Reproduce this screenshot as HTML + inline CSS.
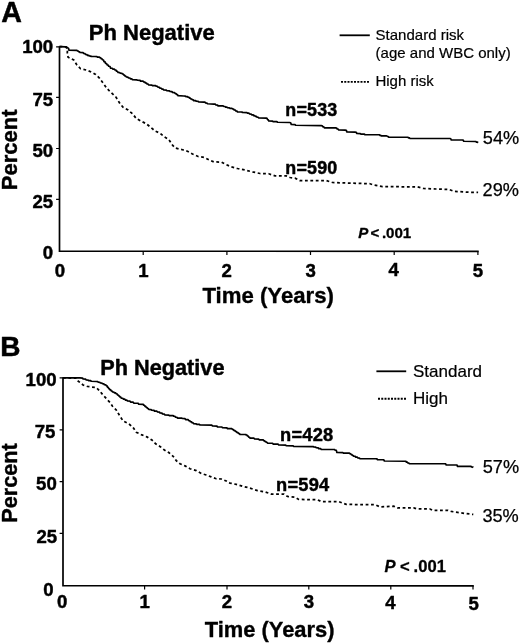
<!DOCTYPE html>
<html><head><meta charset="utf-8"><title>Figure</title>
<style>
html,body{margin:0;padding:0;background:#fff;}
svg{display:block}
text{font-family:"Liberation Sans",Arial,Helvetica,sans-serif;fill:#000}
</style></head><body>
<svg width="520" height="644" viewBox="0 0 520 644">
<rect width="520" height="644" fill="#fff"/>
<path d="M59.5,46.2 V251.1 L478.7,251.45" fill="none" stroke="#000" stroke-width="1.7" stroke-linejoin="miter"/>
<path d="M143.2,251.30 v3.6 M226.9,251.30 v3.6 M310.5,251.30 v3.6 M394.2,251.30 v3.6 M477.9,251.30 v3.6 M59.5,46.9 h-3.4 M59.5,97.3 h-3.4 M59.5,148.5 h-3.4 M59.5,199.4 h-3.4 " fill="none" stroke="#000" stroke-width="1.2"/>
<path d="M63.0,377.3 V585.6 L473.8,585.95" fill="none" stroke="#000" stroke-width="1.7" stroke-linejoin="miter"/>
<path d="M144.6,585.80 v3.6 M227,585.80 v3.6 M308.8,585.80 v3.6 M390.8,585.80 v3.6 M473,585.80 v3.6 M63.0,377.9 h-3.4 M63.0,429.8 h-3.4 M63.0,481.6 h-3.4 M63.0,533.3 h-3.4 " fill="none" stroke="#000" stroke-width="1.2"/>
<path d="M59.50,46.60 L65.60,46.80 L66.35,46.90 L66.85,47.45 L67.60,47.55 L68.10,48.10 L68.58,48.41 L68.90,50.20 L76.90,50.32 L77.50,51.00 L78.25,51.11 L78.75,51.75 L79.50,51.86 L80.00,52.50 L83.15,52.65 L83.75,53.50 L85.03,53.64 L85.62,54.45 L86.90,54.59 L87.50,55.40 L88.78,55.48 L89.38,55.95 L90.65,56.03 L91.25,56.50 L95.00,56.50 L96.90,56.59 L97.50,57.12 L99.40,57.22 L100.00,57.75 L100.75,57.90 L101.25,58.75 L102.00,58.90 L102.50,59.75 L103.45,60.03 L104.05,61.62 L105.00,61.91 L105.60,63.50 L106.58,63.71 L107.17,64.88 L108.15,65.08 L108.75,66.25 L110.00,66.53 L110.60,68.10 L112.20,68.24 L112.80,69.05 L114.40,69.19 L115.00,70.00 L115.95,70.19 L116.55,71.25 L117.50,71.44 L118.10,72.50 L119.70,72.61 L120.30,73.25 L121.90,73.36 L122.50,74.00 L123.25,74.14 L123.75,74.97 L124.50,75.11 L125.00,75.93 L125.75,76.08 L126.25,76.90 L127.73,77.04 L128.33,77.85 L129.82,77.99 L130.42,78.80 L131.90,78.94 L132.50,79.75 L136.90,79.83 L137.50,80.25 L140.03,80.37 L140.62,81.08 L143.15,81.20 L143.75,81.90 L144.82,82.06 L145.42,82.93 L146.48,83.09 L147.08,83.97 L148.15,84.12 L148.75,85.00 L151.90,85.09 L152.50,85.62 L155.65,85.72 L156.25,86.25 L157.53,86.39 L158.12,87.19 L159.40,87.33 L160.00,88.12 L161.28,88.27 L161.88,89.06 L163.15,89.20 L163.75,90.00 L166.28,90.11 L166.88,90.75 L169.40,90.86 L170.00,91.50 L171.90,91.64 L172.50,92.40 L174.40,92.54 L175.00,93.30 L175.95,93.48 L176.55,94.50 L177.50,94.68 L178.10,95.70 L183.75,96.00 L185.33,96.09 L185.93,96.62 L187.50,96.72 L188.10,97.25 L188.95,97.38 L189.51,98.09 L190.36,98.21 L190.93,98.92 L191.77,99.05 L192.34,99.76 L193.19,99.89 L193.75,100.60 L195.65,100.70 L196.25,101.25 L198.15,101.35 L198.75,101.90 L203.75,102.10 L205.03,102.22 L205.62,102.92 L206.90,103.05 L207.50,103.75 L213.75,104.10 L215.33,104.23 L215.93,105.00 L217.50,105.14 L218.10,105.90 L223.15,105.98 L223.75,106.40 L225.03,106.50 L225.62,107.08 L226.90,107.18 L227.50,107.75 L229.40,107.84 L230.00,108.33 L231.90,108.41 L232.50,108.90 L233.57,109.05 L234.17,109.90 L235.23,110.05 L235.83,110.90 L236.90,111.05 L237.50,111.90 L241.90,111.99 L242.50,112.50 L246.90,112.59 L247.50,113.10 L248.98,113.22 L249.58,113.93 L251.07,114.06 L251.67,114.77 L253.15,114.89 L253.75,115.60 L254.82,115.71 L255.42,116.37 L256.48,116.48 L257.08,117.13 L258.15,117.25 L258.75,117.90 L266.25,118.10 L267.00,118.32 L267.50,119.55 L268.25,119.77 L268.75,121.00 L272.52,121.09 L273.12,121.62 L276.90,121.72 L277.50,122.25 L289.40,122.50 L290.65,122.78 L291.25,124.40 L295.00,124.53 L295.60,125.25 L321.25,125.60 L322.22,125.77 L322.82,126.75 L323.80,126.92 L324.40,127.90 L335.60,127.90 L336.57,128.06 L337.18,128.95 L338.15,129.11 L338.75,130.00 L345.00,130.20 L346.30,130.45 L346.90,131.90 L355.00,132.10 L356.30,132.31 L356.90,133.50 L360.35,133.59 L360.95,134.12 L364.40,134.22 L365.00,134.75 L378.75,134.75 L379.50,134.84 L380.00,135.32 L380.75,135.41 L381.25,135.90 L386.25,135.90 L387.00,135.99 L387.50,136.50 L388.25,136.59 L388.75,137.10 L407.20,137.25 L408.04,137.34 L408.60,137.88 L409.44,137.97 L410.00,138.50 L450.00,138.50 L450.75,138.72 L451.25,140.00 L461.90,140.00 L463.15,140.19 L463.75,141.25 L475.00,141.50 L475.95,141.59 L476.55,142.12 L477.50,142.22 L478.10,142.75" fill="none" stroke="#000" stroke-width="1.72" stroke-linejoin="round"/>
<path d="M59.50,46.60 L65.60,46.80 L67.50,48.75 L67.25,53.75 L68.10,57.25 L73.75,60.00 L76.90,65.00 L80.60,68.75 L86.25,70.00 L91.90,72.25 L95.60,74.40 L99.40,78.10 L103.10,83.10 L106.25,87.50 L109.40,91.00 L113.10,94.40 L116.25,97.50 L120.00,103.75 L123.10,107.25 L128.10,110.00 L132.50,113.75 L136.25,118.50 L141.25,121.25 L146.25,123.75 L150.60,127.25 L155.00,131.00 L160.00,133.10 L164.40,136.90 L168.75,139.40 L172.00,144.50 L175.00,147.90 L182.50,149.75 L187.50,151.25 L192.50,154.00 L198.10,156.50 L204.40,157.50 L209.40,160.00 L213.75,161.90 L221.25,162.10 L225.00,164.00 L231.25,166.90 L237.50,168.50 L245.00,170.00 L252.50,171.90 L260.00,173.50 L268.75,173.75 L275.00,175.90 L286.25,175.90 L290.00,177.50 L295.00,178.10 L300.00,180.60 L326.25,180.60 L332.50,182.50 L350.00,183.10 L370.00,183.75 L373.75,185.00 L382.50,186.60 L417.50,186.90 L423.75,188.50 L436.25,189.00 L448.75,189.40 L453.75,191.25 L470.00,192.30 L478.10,192.30" fill="none" stroke="#000" stroke-width="1.75" stroke-dasharray="2.8 2.6"/>
<path d="M63.00,377.90 L80.00,377.90 L82.53,378.06 L83.12,378.95 L85.65,379.11 L86.25,380.00 L88.15,380.09 L88.75,380.62 L90.65,380.72 L91.25,381.25 L96.25,381.50 L97.73,381.61 L98.33,382.25 L99.82,382.36 L100.42,383.00 L101.90,383.11 L102.50,383.75 L103.78,383.89 L104.38,384.68 L105.65,384.81 L106.25,385.60 L107.00,385.84 L107.50,387.18 L108.25,387.41 L108.75,388.75 L109.50,388.91 L110.00,389.80 L110.75,389.96 L111.25,390.85 L112.00,391.01 L112.50,391.90 L113.78,392.04 L114.38,392.82 L115.65,392.96 L116.25,393.75 L117.00,393.91 L117.50,394.84 L118.25,395.00 L118.75,395.93 L119.50,396.09 L120.00,397.01 L120.75,397.18 L121.25,398.10 L122.73,398.25 L123.33,399.07 L124.82,399.21 L125.42,400.03 L126.90,400.18 L127.50,401.00 L130.03,401.16 L130.62,402.05 L133.15,402.21 L133.75,403.10 L138.15,403.26 L138.75,404.18 L143.15,404.34 L143.75,405.25 L144.50,405.41 L145.00,406.29 L145.75,406.44 L146.25,407.32 L147.00,407.48 L147.50,408.36 L148.25,408.52 L148.75,409.40 L151.07,409.52 L151.67,410.23 L153.98,410.36 L154.58,411.07 L156.90,411.19 L157.50,411.90 L159.40,412.06 L160.00,412.93 L161.90,413.09 L162.50,413.97 L164.40,414.12 L165.00,415.00 L168.78,415.09 L169.38,415.62 L173.15,415.72 L173.75,416.25 L175.03,416.39 L175.62,417.18 L176.90,417.31 L177.50,418.10 L181.90,418.16 L182.50,418.50 L185.03,418.66 L185.62,419.55 L188.15,419.71 L188.75,420.60 L189.82,420.76 L190.42,421.65 L191.48,421.81 L192.08,422.70 L193.15,422.86 L193.75,423.75 L196.28,423.84 L196.88,424.38 L199.40,424.47 L200.00,425.00 L211.90,425.15 L212.50,426.00 L216.90,426.13 L217.50,426.88 L221.90,427.01 L222.50,427.75 L226.90,427.87 L227.50,428.57 L231.90,428.70 L232.50,429.40 L233.40,429.55 L234.00,430.40 L234.90,430.55 L235.50,431.40 L236.40,431.55 L237.00,432.40 L237.90,432.55 L238.50,433.40 L239.40,433.55 L240.00,434.40 L245.65,434.49 L246.25,435.00 L247.00,435.16 L247.50,436.03 L248.25,436.19 L248.75,437.07 L249.50,437.22 L250.00,438.10 L253.98,438.23 L254.58,438.93 L258.57,439.06 L259.17,439.77 L263.15,439.89 L263.75,440.60 L264.50,440.73 L265.00,441.43 L265.75,441.56 L266.25,442.27 L267.00,442.39 L267.50,443.10 L272.52,443.24 L273.12,444.05 L278.15,444.19 L278.75,445.00 L285.65,445.11 L286.25,445.75 L293.15,445.86 L293.75,446.50 L313.15,446.56 L313.75,446.90 L315.65,447.02 L316.25,447.73 L318.15,447.86 L318.75,448.57 L320.65,448.69 L321.25,449.40 L334.40,449.49 L335.00,450.00 L336.30,450.38 L336.90,452.50 L342.85,452.59 L343.45,453.12 L349.40,453.22 L350.00,453.75 L350.75,453.88 L351.25,454.58 L352.00,454.71 L352.50,455.42 L353.25,455.54 L353.75,456.25 L355.23,456.38 L355.83,457.08 L357.32,457.21 L357.92,457.92 L359.40,458.04 L360.00,458.75 L375.60,458.75 L376.90,458.88 L377.50,459.60 L382.50,459.75 L383.80,459.94 L384.40,461.00 L405.00,461.25 L405.88,461.38 L406.47,462.08 L407.35,462.21 L407.93,462.92 L408.81,463.04 L409.40,463.75 L444.40,463.75 L445.65,463.94 L446.25,465.00 L456.25,465.00 L457.00,465.19 L457.50,466.30 L470.00,466.40 L471.05,466.48 L471.65,466.95 L472.70,467.03 L473.30,467.50" fill="none" stroke="#000" stroke-width="1.72" stroke-linejoin="round"/>
<path d="M63.00,377.90 L76.25,378.10 L77.50,380.60 L80.00,382.50 L83.10,385.00 L87.50,386.50 L96.25,387.50 L99.40,390.60 L102.50,394.40 L106.25,398.50 L110.00,402.50 L112.50,406.25 L116.25,410.00 L120.00,416.25 L123.10,421.00 L128.75,423.75 L133.10,427.50 L136.25,432.25 L141.25,434.60 L146.90,436.90 L151.90,440.00 L155.60,443.75 L160.60,446.90 L164.40,450.00 L168.75,452.50 L173.10,456.25 L176.25,460.60 L180.00,463.75 L185.00,465.90 L190.00,468.75 L196.25,470.60 L201.25,473.50 L206.25,475.00 L211.25,476.90 L216.25,478.75 L221.25,479.00 L226.25,481.00 L230.00,483.10 L236.25,484.40 L242.50,486.25 L250.00,488.10 L257.50,490.60 L265.00,491.90 L271.25,494.00 L283.75,494.00 L287.50,496.50 L295.00,497.20 L298.75,499.40 L317.50,499.75 L321.25,501.50 L338.75,501.60 L346.25,504.40 L375.00,504.75 L380.00,506.90 L393.75,506.25 L397.50,507.90 L413.75,507.90 L416.25,508.75 L430.00,509.00 L432.50,510.25 L447.50,510.25 L451.25,511.40 L457.50,512.40 L465.00,513.50 L473.30,514.40" fill="none" stroke="#000" stroke-width="1.75" stroke-dasharray="2.8 2.6"/>
<path d="M339.6,35.3 H369.8" stroke="#000" stroke-width="1.8"/>
<path d="M341,81.9 H370" stroke="#000" stroke-width="1.9" stroke-dasharray="2 1.25"/>
<path d="M376.4,371.3 H406.2" stroke="#000" stroke-width="1.8"/>
<path d="M378,398.8 H406.8" stroke="#000" stroke-width="1.9" stroke-dasharray="2 1.25"/>
<text font-size="28.6" font-weight="bold" stroke="#000" stroke-width="0.5" stroke-linejoin="round" x="1.2" y="22">A</text>
<text font-size="22" font-weight="bold" stroke="#000" stroke-width="0.45" stroke-linejoin="round" x="88.8" y="39.5">Ph Negative</text>
<text font-size="18.6" font-weight="bold" text-anchor="end" stroke="#000" stroke-width="0.45" stroke-linejoin="round" x="53.2" y="53.1">100</text>
<text font-size="18.6" font-weight="bold" text-anchor="end" stroke="#000" stroke-width="0.45" stroke-linejoin="round" x="53.2" y="106.3">75</text>
<text font-size="18.6" font-weight="bold" text-anchor="end" stroke="#000" stroke-width="0.45" stroke-linejoin="round" x="53.2" y="156.5">50</text>
<text font-size="18.6" font-weight="bold" text-anchor="end" stroke="#000" stroke-width="0.45" stroke-linejoin="round" x="53.2" y="208.3">25</text>
<text font-size="18.6" font-weight="bold" text-anchor="end" stroke="#000" stroke-width="0.45" stroke-linejoin="round" x="53.2" y="259">0</text>
<text font-size="18.6" font-weight="bold" text-anchor="middle" stroke="#000" stroke-width="0.45" stroke-linejoin="round" x="60" y="276.6">0</text>
<text font-size="18.6" font-weight="bold" text-anchor="middle" stroke="#000" stroke-width="0.45" stroke-linejoin="round" x="143.4" y="276.6">1</text>
<text font-size="18.6" font-weight="bold" text-anchor="middle" stroke="#000" stroke-width="0.45" stroke-linejoin="round" x="226.6" y="276.6">2</text>
<text font-size="18.6" font-weight="bold" text-anchor="middle" stroke="#000" stroke-width="0.45" stroke-linejoin="round" x="310.6" y="276.6">3</text>
<text font-size="18.6" font-weight="bold" text-anchor="middle" stroke="#000" stroke-width="0.45" stroke-linejoin="round" x="393.6" y="276.2">4</text>
<text font-size="18.6" font-weight="bold" text-anchor="middle" stroke="#000" stroke-width="0.45" stroke-linejoin="round" x="477.8" y="276.6">5</text>
<text font-size="22.0" font-weight="bold" text-anchor="middle" stroke="#000" stroke-width="0.4" stroke-linejoin="round" transform="translate(17.2,149.8) rotate(-90)">Percent</text>
<text font-size="22.2" font-weight="bold" text-anchor="middle" stroke="#000" stroke-width="0.35" stroke-linejoin="round" x="268.2" y="303.2">Time (Years)</text>
<text font-size="17.9" font-weight="bold" stroke="#000" stroke-width="0.45" stroke-linejoin="round" x="285.3" y="115.7" letter-spacing="0.2">n=533</text>
<text font-size="17.9" font-weight="bold" stroke="#000" stroke-width="0.45" stroke-linejoin="round" x="285.3" y="173.5" letter-spacing="0.2">n=590</text>
<text font-size="18.2" stroke="#000" stroke-width="0.25" stroke-linejoin="round" x="482.8" y="144.2">54%</text>
<text font-size="18.2" stroke="#000" stroke-width="0.25" stroke-linejoin="round" x="482.6" y="196.2">29%</text>
<text font-size="15.1" font-weight="bold" stroke="#000" stroke-width="0.3" stroke-linejoin="round" x="358.3" y="238.2"><tspan font-style="italic">P</tspan><tspan x="370.6">&lt;</tspan><tspan x="381.9">.001</tspan></text>
<text font-size="15" stroke="#000" stroke-width="0.2" stroke-linejoin="round" x="375.6" y="40.4">Standard risk</text>
<text font-size="15" stroke="#000" stroke-width="0.2" stroke-linejoin="round" x="375.6" y="58.1">(age and WBC only)</text>
<text font-size="15" stroke="#000" stroke-width="0.2" stroke-linejoin="round" x="375.4" y="86">High risk</text>
<text font-size="28" font-weight="bold" stroke="#000" stroke-width="0.5" stroke-linejoin="round" x="0.2" y="356.3">B</text>
<text font-size="21.7" font-weight="bold" stroke="#000" stroke-width="0.45" stroke-linejoin="round" x="100.3" y="374.6">Ph Negative</text>
<text font-size="18.6" font-weight="bold" text-anchor="end" stroke="#000" stroke-width="0.45" stroke-linejoin="round" x="56.6" y="385.7">100</text>
<text font-size="18.6" font-weight="bold" text-anchor="end" stroke="#000" stroke-width="0.45" stroke-linejoin="round" x="55.4" y="438.2">75</text>
<text font-size="18.6" font-weight="bold" text-anchor="end" stroke="#000" stroke-width="0.45" stroke-linejoin="round" x="56.8" y="490.1">50</text>
<text font-size="18.6" font-weight="bold" text-anchor="end" stroke="#000" stroke-width="0.45" stroke-linejoin="round" x="57.2" y="542.9">25</text>
<text font-size="18.6" font-weight="bold" text-anchor="end" stroke="#000" stroke-width="0.45" stroke-linejoin="round" x="53.5" y="595.7">0</text>
<text font-size="18.6" font-weight="bold" text-anchor="middle" stroke="#000" stroke-width="0.45" stroke-linejoin="round" x="62.1" y="607.8">0</text>
<text font-size="18.6" font-weight="bold" text-anchor="middle" stroke="#000" stroke-width="0.45" stroke-linejoin="round" x="144.6" y="607.7">1</text>
<text font-size="18.6" font-weight="bold" text-anchor="middle" stroke="#000" stroke-width="0.45" stroke-linejoin="round" x="227" y="608">2</text>
<text font-size="18.6" font-weight="bold" text-anchor="middle" stroke="#000" stroke-width="0.45" stroke-linejoin="round" x="308.8" y="608.3">3</text>
<text font-size="18.6" font-weight="bold" text-anchor="middle" stroke="#000" stroke-width="0.45" stroke-linejoin="round" x="390.5" y="609.2">4</text>
<text font-size="18.6" font-weight="bold" text-anchor="middle" stroke="#000" stroke-width="0.45" stroke-linejoin="round" x="473.7" y="609.6">5</text>
<text font-size="21.7" font-weight="bold" text-anchor="middle" stroke="#000" stroke-width="0.4" stroke-linejoin="round" transform="translate(17.2,483.0) rotate(-90)">Percent</text>
<text font-size="21.9" font-weight="bold" text-anchor="middle" stroke="#000" stroke-width="0.35" stroke-linejoin="round" x="269.6" y="636.9">Time (Years)</text>
<text font-size="18.3" font-weight="bold" stroke="#000" stroke-width="0.45" stroke-linejoin="round" x="280.1" y="440.5" letter-spacing="0.2">n=428</text>
<text font-size="18.3" font-weight="bold" stroke="#000" stroke-width="0.45" stroke-linejoin="round" x="276.1" y="490.8" letter-spacing="0.2">n=594</text>
<text font-size="18.2" stroke="#000" stroke-width="0.25" stroke-linejoin="round" x="482.7" y="473.2">57%</text>
<text font-size="18.2" stroke="#000" stroke-width="0.25" stroke-linejoin="round" x="482.4" y="522">35%</text>
<text font-size="16.6" font-weight="bold" stroke="#000" stroke-width="0.3" stroke-linejoin="round" x="384.6" y="571.5"><tspan font-style="italic">P</tspan> <tspan x="400.0">&lt;</tspan> <tspan x="413.6">.001</tspan></text>
<text font-size="17" stroke="#000" stroke-width="0.2" stroke-linejoin="round" x="413.0" y="377.4">Standard</text>
<text font-size="17" stroke="#000" stroke-width="0.2" stroke-linejoin="round" x="413.0" y="404.3">High</text>
</svg>
</body></html>
